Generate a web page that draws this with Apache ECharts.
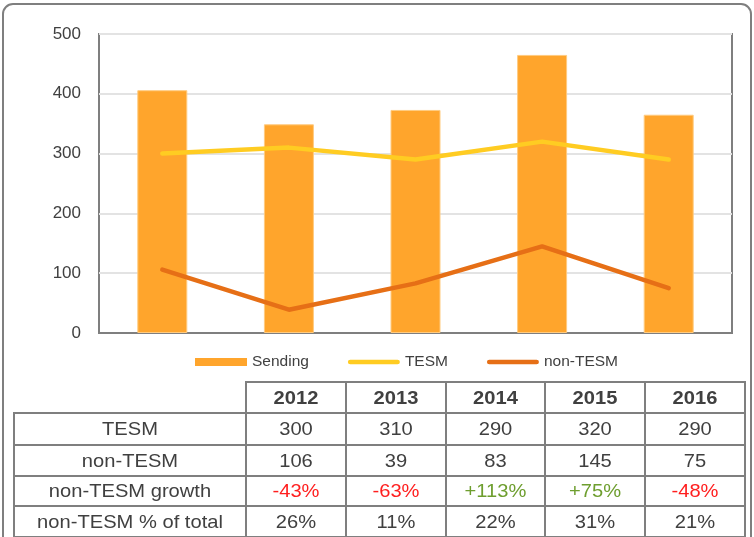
<!DOCTYPE html>
<html>
<head>
<meta charset="utf-8">
<script src="https://cdn.jsdelivr.net/npm/echarts@6/dist/echarts.min.js"></script>
<style>
  html, body { margin: 0; padding: 0; background: #fff; }
  #chart { width: 754px; height: 537px; }
</style>
</head>
<body>
<div id="chart"></div>
<script>
// data
var years = ['2012', '2013', '2014', '2015', '2016'];
var sending = [406, 349, 373, 465, 365];
var tesm = [300, 310, 290, 320, 290];
var nonTesm = [106, 39, 83, 145, 75];
var growth = ['-43%', '-63%', '+113%', '+75%', '-48%'];
var share = ['26%', '11%', '22%', '31%', '21%'];
var rowNames = ['TESM', 'non-TESM', 'non-TESM growth', 'non-TESM % of total'];

var yTicks = { min: 0, max: 500, step: 100 };

var BORDER = '#7f7f7f';
var TXT = '#404040';
var FONT = 'Arial, "Liberation Sans", sans-serif';

// table geometry (under the plot)
var colX = [246, 346, 446, 545, 645, 745];
var firstColX = 14;
var rowY = [382, 413, 445, 476, 506, 537];

// thin rounded bar inside a 52x8 box, for the line series legend
var lineIcon = 'path://M0,0 M2,1.6 L50,1.6 A2.4,2.4 0 0 1 50,6.4 L2,6.4 A2.4,2.4 0 0 1 2,1.6 Z M52,8';

function cell(x, y, w, h) {
    return {
        type: 'rect', silent: true,
        shape: { x: x, y: y, width: w, height: h },
        style: { fill: 'none', stroke: BORDER, lineWidth: 2 }
    };
}

function label(txt, cx, cy, opts) {
    opts = opts || {};
    return {
        type: 'text', silent: true,
        x: cx, y: cy, scaleX: 1.06,
        style: {
            text: txt, align: 'center', verticalAlign: 'middle',
            font: (opts.bold ? 'bold ' : '') + '19px ' + FONT,
            fill: opts.color || TXT
        }
    };
}

function buildTable() {
    var g = [];
    // outer rounded frame
    g.push({
        type: 'rect', silent: true,
        shape: { x: 3, y: 4, width: 748, height: 580, r: 10 },
        style: { fill: 'none', stroke: BORDER, lineWidth: 2 }
    });
    // header row
    for (let c = 0; c < years.length; c++) {
        let w = colX[c + 1] - colX[c];
        g.push(cell(colX[c], rowY[0], w, rowY[1] - rowY[0]));
        g.push(label(years[c], colX[c] + w / 2, (rowY[0] + rowY[1]) / 2 + 1, { bold: true }));
    }
    var rows = [tesm.map(String), nonTesm.map(String), growth, share];
    for (let r = 0; r < rows.length; r++) {
        let y0 = rowY[r + 1], h = rowY[r + 2] - y0, cy = y0 + h / 2 + 1;
        g.push(cell(firstColX, y0, colX[0] - firstColX, h));
        g.push(label(rowNames[r], (firstColX + colX[0]) / 2, cy));
        for (let c = 0; c < years.length; c++) {
            let w = colX[c + 1] - colX[c];
            let col = TXT;
            if (rows[r] === growth)
                col = growth[c].charAt(0) == '-' ? '#FF1F1F' : '#6E9E2F';
            g.push(cell(colX[c], y0, w, h));
            g.push(label(rows[r][c], colX[c] + w / 2, cy, { color: col }));
        }
    }
    return g;
}

var chart = echarts.init(document.getElementById('chart'), null, { renderer: 'canvas' });

var option = {
    animation: false,
    backgroundColor: '#fff',
    textStyle: { fontFamily: FONT },
    grid: {
        left: 99, top: 34, width: 633, height: 299,
        show: true, borderColor: BORDER, borderWidth: 2
    },
    legend: {
        left: 190, top: 349,
        itemWidth: 52, itemHeight: 8, itemGap: 39,
        textStyle: { fontSize: 15.5, color: TXT },
        data: [
            { name: 'Sending', icon: 'rect', itemStyle: { borderWidth: 0 } },
            { name: 'TESM', icon: lineIcon },
            { name: 'non-TESM', icon: lineIcon }
        ]
    },
    xAxis: {
        type: 'category',
        data: years,
        axisLine: { lineStyle: { color: BORDER, width: 2 } },
        axisTick: { show: false },
        axisLabel: { show: false }
    },
    yAxis: {
        type: 'value',
        min: yTicks.min, max: yTicks.max, interval: yTicks.step,
        axisLine: { show: false },
        axisTick: { show: false },
        axisLabel: { color: TXT, fontSize: 17, margin: 18 },
        splitLine: { lineStyle: { color: '#e3e3e3', width: 2 } }
    },
    series: [
        {
            name: 'Sending', type: 'bar', data: sending, barWidth: 50,
            itemStyle: { color: '#FFA52C', borderColor: '#FFCB80', borderWidth: 1 }
        },
        {
            name: 'TESM', type: 'line', data: tesm, symbol: 'none',
            lineStyle: { color: '#FFCC22', width: 4.5, cap: 'round' },
            itemStyle: { color: '#FFCC22' }
        },
        {
            name: 'non-TESM', type: 'line', data: nonTesm, symbol: 'none',
            lineStyle: { color: '#E66F16', width: 4.5, cap: 'round' },
            itemStyle: { color: '#E66F16' }
        }
    ],
    graphic: buildTable()
};

chart.setOption(option);
</script>
</body>
</html>
